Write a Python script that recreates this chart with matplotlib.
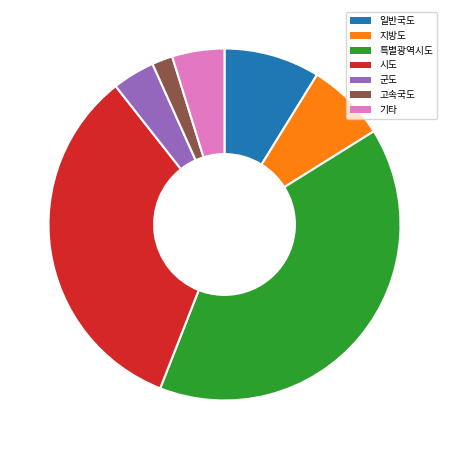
import matplotlib
matplotlib.use("Agg")
import matplotlib.pyplot as plt

plt.rcParams['font.family'] = ['Noto Sans CJK KR', 'DejaVu Sans']

labels = ['일반국도', '지방도', '특별광역시도', '시도', '군도', '고속국도', '기타']
values = [8.8, 7.3, 39.8, 33.4, 3.9, 1.9, 4.8]
colors = ['#1f77b4', '#ff7f0e', '#2ca02c', '#d62728', '#9467bd', '#8c564b', '#e377c2']

fig = plt.figure(figsize=(4.49, 4.49), dpi=100)
ax = fig.add_axes([0.01, 0.01, 0.98, 0.98])
wedges, _ = ax.pie(values, colors=colors, startangle=90, counterclock=False,
                   wedgeprops=dict(width=0.6, edgecolor='white', linewidth=1.5))
ax.set_aspect('equal')
leg = ax.legend(wedges, labels, loc='upper right', bbox_to_anchor=(437/449, 1 - 12/449),
                bbox_transform=fig.transFigure, borderaxespad=0,
                fontsize=7, frameon=True, handlelength=2.2)
for h in leg.legend_handles:
    h.set_linewidth(0)
fig.savefig('out.png', dpi=100)
